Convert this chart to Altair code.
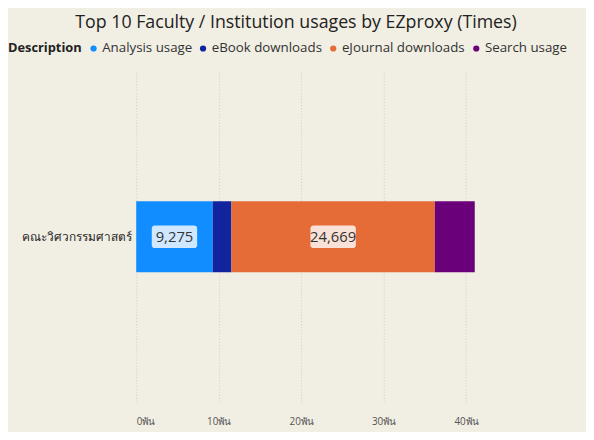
import altair as alt
import pandas as pd

faculty = ["คณะวิศวกรรมศาสตร์"] * 4
descriptions = ["Analysis usage", "eBook downloads", "eJournal downloads", "Search usage"]
values = [9275, 2270, 24669, 4840]
show_label = [True, False, True, False]
colors = ["#118DFF", "#12239E", "#E66C37", "#6B007B"]

df = pd.DataFrame({
    "Faculty": faculty,
    "Description": descriptions,
    "Times": values,
    "Order": list(range(len(descriptions))),
    "Show": show_label,
})

FONT = "Open Sans"

base = alt.Chart(df).transform_window(
    cum="sum(Times)", sort=[alt.SortField("Order")], frame=[None, 0]
).transform_calculate(
    start="datum.cum - datum.Times",
    mid="datum.cum - datum.Times / 2",
    label="format(datum.Times, ',')",
)

x_scale = alt.Scale(domain=[0, 50000], nice=False)

bars = base.mark_bar(size=72).encode(
    x=alt.X("start:Q", scale=x_scale, title=None,
            axis=alt.Axis(values=[0, 10000, 20000, 30000, 40000],
                          labelExpr="format(datum.value / 1000, 'd') + 'พัน'",
                          grid=True, gridDash=[1, 2], gridColor="#C8C6BC",
                          gridOpacity=0.8, domain=False, ticks=False,
                          labelFont=FONT, labelFontSize=10, labelColor="#555555",
                          labelPadding=15)),
    x2="cum:Q",
    y=alt.Y("Faculty:N", title=None,
            axis=alt.Axis(domain=False, ticks=False, labelFont=FONT,
                          labelFontSize=12, labelColor="#222222", labelPadding=5)),
    color=alt.Color("Description:N",
                    scale=alt.Scale(domain=descriptions, range=colors),
                    legend=alt.Legend(orient="none", direction="horizontal",
                                      legendX=-130, legendY=-31,
                                      title="Description", titleOrient="left",
                                      titleFont=FONT, titleFontSize=13, titleFontWeight="bold",
                                      titleColor="#222222",
                                      labelFont=FONT, labelFontSize=13.5, labelColor="#333333",
                                      symbolType="circle", symbolSize=40,
                                      columnPadding=4, symbolOffset=0, labelOffset=2)),
    order=alt.Order("Order:Q"),
)

boxes = base.transform_filter("datum.Show").mark_rect(
    width=46, height=23, cornerRadius=3, opacity=0.8, color="#FFFFFF"
).encode(
    x=alt.X("mid:Q", scale=x_scale),
    y=alt.Y("Faculty:N"),
)

labels = base.transform_filter("datum.Show").mark_text(
    font=FONT, fontSize=15, color="#333333"
).encode(
    x=alt.X("mid:Q", scale=x_scale),
    y=alt.Y("Faculty:N"),
    text="label:N",
)

chart = alt.layer(bars, boxes, labels).properties(
    width=418,
    height=334,
    background="#F1EEE3",
    autosize=alt.AutoSizeParams(type="none"),
    padding={"left": 130, "top": 62, "right": 38, "bottom": 28},
    title=alt.TitleParams(
        "Top 10 Faculty / Institution usages by EZproxy (Times)",
        font=FONT, fontSize=18, fontWeight="normal", color="#222222",
        anchor="middle", dx=-47, offset=10,
    ),
).configure_view(stroke=None)

chart.save("out.html", embed_options={"renderer": "svg", "actions": False})
